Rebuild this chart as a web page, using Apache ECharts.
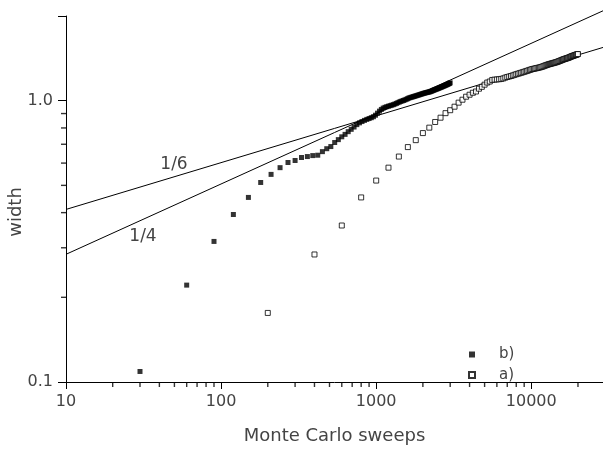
<!DOCTYPE html>
<html>
<head>
<meta charset="utf-8">
<script src="https://cdn.jsdelivr.net/npm/echarts@6/dist/echarts.min.js"></script>
<style>
html,body{margin:0;padding:0;background:#fff;}
#chart{width:603px;height:449px;}
</style>
</head>
<body>
<div id="chart"></div>
<script>
// ---- data ----
const sweepsB = [30,60,90,120,150,180,210,240,270,300,330,360,390,420,450,480,510,540,570,600,
  630,660,690,720,750,780,810,840,870,900,930,960,990,1020,1050,1080,1110,1140,1170,1200,
  1230,1260,1290,1320,1350,1380,1410,1440,1470,1500,1530,1560,1590,1620,1650,1680,1710,1740,1770,1800,
  1830,1860,1890,1920,1950,1980,2010,2040,2070,2100,2130,2160,2190,2220,2250,2280,2310,2340,2370,2400,
  2430,2460,2490,2520,2550,2580,2610,2640,2670,2700,2730,2760,2790,2820,2850,2880,2910,2940,2970,3000];
const widthB = [0.109,0.221,0.316,0.394,0.453,0.512,0.547,0.578,0.603,0.613,0.628,0.633,0.638,0.640,0.659,0.675,0.687,0.710,0.727,0.744,
  0.759,0.776,0.791,0.806,0.822,0.834,0.843,0.851,0.858,0.864,0.870,0.877,0.888,0.903,0.918,0.931,0.941,0.947,0.952,0.956,
  0.960,0.964,0.968,0.973,0.978,0.984,0.989,0.994,0.998,1.002,1.006,1.011,1.016,1.021,1.025,1.028,1.031,1.034,1.037,1.040,
  1.043,1.046,1.049,1.052,1.055,1.058,1.061,1.063,1.066,1.068,1.070,1.072,1.074,1.076,1.079,1.082,1.086,1.089,1.092,1.095,
  1.098,1.101,1.104,1.107,1.110,1.113,1.116,1.119,1.122,1.125,1.128,1.131,1.134,1.137,1.140,1.143,1.146,1.150,1.153,1.157];

const sweepsA = [200,400,600,800,1000,1200,1400,1600,1800,2000,2200,2400,2600,2800,3000,3200,3400,3600,3800,4000,
  4200,4400,4600,4800,5000,5200,5400,5600,5800,6000,6200,6400,6600,6800,7000,7200,7400,7600,7800,8000,
  8200,8400,8600,8800,9000,9200,9400,9600,9800,10000,10200,10400,10600,10800,11000,11200,11400,11600,11800,12000,
  12200,12400,12600,12800,13000,13200,13400,13600,13800,14000,14200,14400,14600,14800,15000,15200,15400,15600,15800,16000,
  16200,16400,16600,16800,17000,17200,17400,17600,17800,18000,18200,18400,18600,18800,19000,19200,19400,19600,19800,20000];
const widthA = [0.176,0.284,0.360,0.453,0.520,0.578,0.633,0.684,0.724,0.767,0.802,0.840,0.870,0.903,0.925,0.952,0.984,1.008,1.033,1.050,
  1.067,1.078,1.103,1.120,1.140,1.160,1.170,1.185,1.188,1.190,1.192,1.195,1.200,1.208,1.214,1.219,1.224,1.230,1.236,1.242,
  1.247,1.252,1.257,1.262,1.267,1.272,1.277,1.282,1.287,1.292,1.296,1.299,1.302,1.305,1.308,1.311,1.314,1.318,1.322,1.326,
  1.331,1.336,1.340,1.344,1.348,1.351,1.354,1.357,1.360,1.363,1.366,1.369,1.372,1.376,1.380,1.384,1.388,1.392,1.396,1.400,
  1.404,1.407,1.410,1.413,1.416,1.419,1.422,1.426,1.430,1.434,1.438,1.441,1.444,1.447,1.450,1.453,1.456,1.459,1.462,1.465];

// reference power-law lines (two end points each)
const lineSixthX = [10, 29000];
const lineSixthY = [0.4106, 1.5463];
const lineQuarterX = [10, 29000];
const lineQuarterY = [0.2844, 2.0868];

const xTickLabels = ['10','100','1000','10000'];
const yTickLabels = ['0.1','1.0'];
const xMinorTicks = [20,30,40,50,60,70,80,90,200,300,400,500,600,700,800,900,2000,3000,4000,5000,6000,7000,8000,9000,20000];
const yMinorTicks = [0.2,0.3,0.4,0.5,0.6,0.7,0.8,0.9];

const xMin = 10, xMax = 29000, yMin = 0.1, yMax = 2;

// ---- chart ----
const FONT = 'DejaVu Sans';
const TXT = '#444';
const zip = (xs, ys) => xs.map((x, i) => [x, ys[i]]);

function isPow10(v) {
  const l = Math.log10(v);
  return Math.abs(l - Math.round(l)) < 1e-6;
}

const chart = echarts.init(document.getElementById('chart'), null, {renderer: 'canvas'});
chart.setOption({
  animation: false,
  backgroundColor: '#fff',
  grid: {left: 66, right: 0, top: 16, bottom: 67, containLabel: false, outerBoundsMode: 'none'},
  xAxis: {
    type: 'log', logBase: 10, min: xMin, max: xMax,
    axisLine: {show: true, onZero: false, lineStyle: {color: '#000', width: 1}},
    axisTick: {show: true, length: 7, lineStyle: {color: '#000', width: 1}},
    axisLabel: {
      fontFamily: FONT, fontSize: 16, color: TXT, margin: 12, showMaxLabel: false,
      formatter: v => {
        if (!isPow10(v)) return '';
        const s = String(Math.round(v));
        return xTickLabels.indexOf(s) >= 0 ? s : '';
      }
    },
    splitLine: {show: false},
    name: 'Monte Carlo sweeps', nameLocation: 'middle', nameGap: 45,
    nameTextStyle: {fontFamily: FONT, fontSize: 18, color: TXT}
  },
  yAxis: {
    type: 'log', logBase: 10, min: yMin, max: yMax,
    axisLine: {show: true, onZero: false, lineStyle: {color: '#000', width: 1}},
    axisTick: {show: true, length: 8, lineStyle: {color: '#000', width: 1}},
    axisLabel: {
      fontFamily: FONT, fontSize: 16, color: TXT, margin: 13,
      formatter: v => {
        if (Math.abs(v - 0.1) < 1e-9) return yTickLabels[0];
        if (Math.abs(v - 1) < 1e-9) return yTickLabels[1];
        return '';
      }
    },
    splitLine: {show: false}
  },
  legend: {
    orient: 'vertical', left: 468, top: 347, padding: 0,
    itemWidth: 6, itemHeight: 6, itemGap: 5.5,
    data: ['b)', 'a)'],
    textStyle: {fontFamily: FONT, fontSize: 15, lineHeight: 14, color: TXT, padding: [0, 0, 0, 19]}
  },
  graphic: [
    {type: 'text', x: 174, y: 165, style: {text: '1/6', fontFamily: FONT, fontSize: 17, fill: TXT, textAlign: 'center', textVerticalAlign: 'middle'}},
    {type: 'text', x: 143, y: 237, style: {text: '1/4', fontFamily: FONT, fontSize: 17, fill: TXT, textAlign: 'center', textVerticalAlign: 'middle'}},
    {type: 'text', x: 16, y: 212, rotation: Math.PI / 2, style: {text: 'width', fontFamily: FONT, fontSize: 18, fill: TXT, textAlign: 'center', textVerticalAlign: 'middle'}}
  ],
  series: [
    {
      name: '1/6', type: 'line', data: zip(lineSixthX, lineSixthY), showSymbol: false, symbol: 'none',
      clip: false, lineStyle: {color: '#000', width: 1}, silent: true, z: 1
    },
    {
      name: '1/4', type: 'line', data: zip(lineQuarterX, lineQuarterY), showSymbol: false, symbol: 'none',
      clip: false, lineStyle: {color: '#000', width: 1}, silent: true, z: 1
    },
    {
      name: 'a)', type: 'scatter', data: zip(sweepsA, widthA), symbol: 'rect', symbolSize: 5,
      itemStyle: {color: '#fff', borderColor: '#000', borderWidth: 1}, z: 2
    },
    {
      name: 'b)', type: 'scatter', data: zip(sweepsB, widthB), symbol: 'rect', symbolSize: 5,
      itemStyle: {color: '#000', borderColor: '#000', borderWidth: 0}, z: 3
    },
    {
      name: 'xminor', type: 'scatter', clip: false, silent: true, z: 4,
      data: xMinorTicks.map(v => [v, yMin]),
      symbol: 'rect', symbolSize: [1.4, 5], symbolOffset: [0, 2.5],
      itemStyle: {color: '#000'}
    },
    {
      name: 'yminor', type: 'scatter', clip: false, silent: true, z: 4,
      data: yMinorTicks.map(v => [xMin, v]),
      symbol: 'rect', symbolSize: [5, 1.4], symbolOffset: [-2.5, 0],
      itemStyle: {color: '#000'}
    }
  ]
});
</script>
</body>
</html>
